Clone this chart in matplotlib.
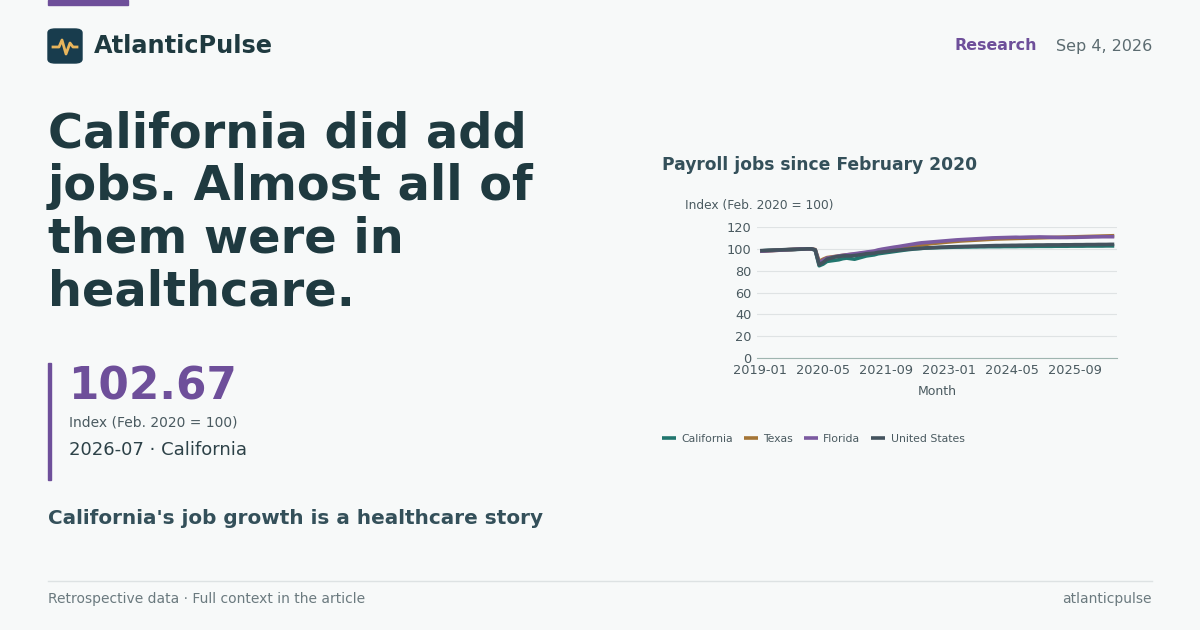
import matplotlib
matplotlib.use("Agg")
import matplotlib.pyplot as plt
from matplotlib.patches import FancyBboxPatch, Rectangle
from matplotlib.lines import Line2D

months = [f"{y}-{m:02d}" for y in range(2019, 2027) for m in range(1, 13)][:91]

us = [98.3,98.5,98.7,98.8,98.9,99.0,99.2,99.3,99.4,99.5,99.7,99.8,
      100.0,100.0,99.0,85.5,87.5,90.5,91.5,92.5,93.0,93.5,93.6,93.5,
      93.9,94.3,94.8,95.5,95.7,96.0,96.8,97.1,97.5,98.0,98.4,98.8,
      99.1,99.5,99.8,100.1,100.3,100.5,100.8,100.9,101.1,101.3,101.5,101.6,
      101.8,101.9,102.0,102.1,102.2,102.3,102.4,102.5,102.6,102.7,102.8,102.9,
      103.0,103.0,103.1,103.1,103.2,103.2,103.3,103.3,103.4,103.4,103.5,103.5,
      103.5,103.6,103.6,103.6,103.6,103.7,103.7,103.7,103.8,103.8,103.8,103.9,
      103.9,103.9,104.0,104.0,104.0,104.1,104.1]
ca = [98.0,98.3,98.5,98.6,98.8,98.9,99.1,99.2,99.3,99.5,99.6,99.8,
      100.0,100.0,98.8,84.5,86.0,88.5,89.0,89.5,90.0,91.0,91.5,91.0,
      90.5,91.5,92.5,93.5,94.0,94.5,95.5,96.0,96.5,97.0,97.5,98.0,
      98.5,99.0,99.4,99.8,100.1,100.4,100.7,100.9,101.0,101.1,101.2,101.3,
      101.4,101.5,101.6,101.6,101.7,101.7,101.8,101.8,101.9,101.9,102.0,102.0,
      102.0,102.0,102.1,102.1,102.1,102.1,102.2,102.2,102.2,102.2,102.3,102.3,
      102.3,102.3,102.3,102.4,102.4,102.4,102.4,102.5,102.5,102.5,102.5,102.6,
      102.6,102.6,102.6,102.6,102.7,102.7,102.67]
tx = [97.8,98.0,98.2,98.4,98.6,98.8,99.0,99.2,99.4,99.6,99.8,99.9,
      100.0,100.0,99.3,88.5,90.5,92.0,92.5,93.0,93.5,94.0,94.5,94.8,
      95.0,95.5,96.0,96.5,97.0,97.5,98.0,98.5,99.0,99.5,100.0,100.5,
      101.0,101.5,102.0,102.5,103.0,103.5,104.0,104.5,105.0,105.3,105.6,106.0,
      106.3,106.6,106.9,107.2,107.4,107.6,107.8,108.0,108.2,108.4,108.6,108.8,
      109.0,109.1,109.2,109.3,109.4,109.5,109.6,109.7,109.8,109.9,110.0,110.1,
      110.2,110.3,110.4,110.5,110.6,110.7,110.8,110.9,111.0,111.1,111.2,111.3,
      111.4,111.5,111.6,111.7,111.8,111.9,112.0]
fl = [97.8,98.0,98.2,98.4,98.6,98.8,99.0,99.2,99.4,99.6,99.8,99.9,
      100.0,100.0,99.0,87.0,89.5,91.5,92.0,92.8,93.5,94.0,94.5,95.0,
      95.5,96.0,96.5,97.0,97.5,98.0,99.0,99.7,100.3,100.9,101.5,102.0,
      102.6,103.2,103.8,104.4,105.0,105.5,105.8,106.1,106.4,106.7,107.0,107.3,
      107.6,107.9,108.2,108.4,108.6,108.8,109.0,109.2,109.4,109.6,109.8,110.0,
      110.1,110.2,110.3,110.4,110.5,110.6,110.5,110.6,110.7,110.8,110.8,110.9,
      110.8,110.7,110.6,110.5,110.4,110.4,110.4,110.5,110.5,110.6,110.7,110.8,
      110.9,111.0,111.0,111.1,111.1,111.1,111.1]

series = [("California", ca, "#21766e"), ("Texas", tx, "#a47536"),
          ("Florida", fl, "#7b5aa0"), ("United States", us, "#44535e")]
yticks = [0, 20, 40, 60, 80, 100, 120]
xtick_labels = ["2019-01", "2020-05", "2021-09", "2023-01", "2024-05", "2025-09"]

BG = "#f7f9f9"
DARK = "#1f3a40"
PURPLE = "#6e4f9a"
fig = plt.figure(figsize=(12, 6.3), dpi=100, facecolor=BG)
W, H = 1200, 630
def fx(x): return x / W
def fy(y): return 1 - y / H

fig.patches.append(Rectangle((fx(48), fy(5)), 80 / W, 5 / H, transform=fig.transFigure, color=PURPLE))
fig.patches.append(FancyBboxPatch((fx(48), fy(63)), 34 / W, 34 / H, boxstyle="round,pad=0,rounding_size=0.006",
                                  transform=fig.transFigure, color="#183c4d"))
fig.lines.append(Line2D([fx(x) for x in [53, 59, 62, 66, 70, 73, 77]],
                        [fy(y) for y in [47, 47, 40, 54, 43, 47, 47]],
                        transform=fig.transFigure, color="#e8b55c", lw=2))
fig.text(fx(94), fy(46), "AtlanticPulse", fontsize=17.3, fontweight="bold", color=DARK, va="center")
fig.text(fx(1037), fy(46), "Research", fontsize=11.4, fontweight="bold", color=PURPLE, va="center", ha="right")
fig.text(fx(1152), fy(46), "Sep 4, 2026", fontsize=11.5, color="#5b6b70", va="center", ha="right")

fig.text(fx(48), fy(110), "California did add\njobs. Almost all of\nthem were in\nhealthcare.",
         fontsize=34.5, fontweight="bold", color=DARK, va="top", linespacing=1.16)
fig.patches.append(Rectangle((fx(48), fy(480)), 3 / W, 117 / H, transform=fig.transFigure, color=PURPLE))
fig.text(fx(68), fy(387), "102.67", fontsize=31.5, fontweight="bold", color=PURPLE, va="center")
fig.text(fx(69), fy(422), "Index (Feb. 2020 = 100)", fontsize=10, color="#4a5a60", va="center")
fig.text(fx(69), fy(450), "2026-07 · California", fontsize=13, color="#2d4248", va="center")
fig.text(fx(48), fy(519), "California's job growth is a healthcare story", fontsize=14.4, fontweight="bold",
         color="#34505a", va="center")
fig.lines.append(Line2D([fx(48), fx(1152)], [fy(581), fy(581)], transform=fig.transFigure, color="#dde2e3", lw=1))
fig.text(fx(48), fy(599), "Retrospective data · Full context in the article", fontsize=10, color="#6b7a7f", va="center")
fig.text(fx(1152), fy(599), "atlanticpulse", fontsize=10, color="#6b7a7f", va="center", ha="right")

fig.text(fx(662), fy(165), "Payroll jobs since February 2020", fontsize=12.3, fontweight="bold", color="#34505a", va="center")
fig.text(fx(685), fy(206), "Index (Feb. 2020 = 100)", fontsize=8.8, color="#4a5a60", va="center")

ax = fig.add_axes([fx(757), fy(358), (1117 - 757) / W, (358 - 227) / H])
ax.set_facecolor(BG)
x = list(range(len(months)))
for name, vals, c in series:
    ax.plot(x, vals, color=c, lw=2.6, label=name, solid_capstyle="butt")
ax.set_ylim(0, 120)
ax.set_xlim(-0.8, len(months) - 0.3)
ax.set_yticks(yticks)
ax.set_xticks([months.index(m) for m in xtick_labels])
ax.set_xticklabels(xtick_labels)
ax.tick_params(colors="#4a5a60", labelsize=9.3, length=0, pad=4)
ax.grid(axis="y", color="#dfe3e4", lw=0.8)
ax.set_axisbelow(True)
for s in ["top", "right", "left"]:
    ax.spines[s].set_visible(False)
ax.spines["bottom"].set_color("#9fb5b0")
ax.set_xlabel("Month", fontsize=9, color="#4a5a60", labelpad=6)
ax.legend(loc="upper left", bbox_to_anchor=(fx(652), fy(424)), bbox_transform=fig.transFigure, ncol=4,
          frameon=False, fontsize=7.8, handlelength=1.3, handletextpad=0.5, columnspacing=1.0, labelcolor="#4a5a60")

fig.savefig("out.png", dpi=100, facecolor=BG)
